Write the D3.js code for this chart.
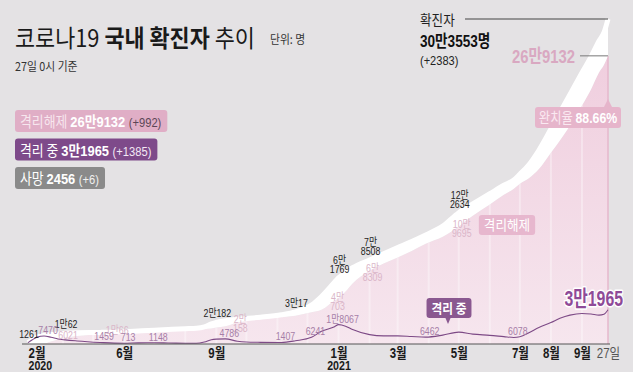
<!DOCTYPE html>
<html>
<head>
<meta charset="utf-8">
<script src="https://cdn.jsdelivr.net/npm/d3@7/dist/d3.min.js"></script>
<style>
  body { margin: 0; background: #e4e2e4; }
  svg { display: block; font-family: "Liberation Sans", "Noto Sans CJK KR", sans-serif; }
</style>
</head>
<body>
<div id="chart"></div>
<script>
// daily snapshots (people)
const dates = ['2020-02-26','2020-03-01','2020-03-06','2020-03-13','2020-03-20','2020-03-27','2020-04-03','2020-04-15',
  '2020-05-08','2020-05-22','2020-06-01','2020-06-15','2020-07-01','2020-07-15','2020-08-01','2020-08-12','2020-08-20',
  '2020-08-27','2020-09-01','2020-09-10','2020-09-22','2020-10-01','2020-10-15','2020-11-05','2020-11-19','2020-12-05',
  '2020-12-15','2020-12-28','2021-01-01','2021-01-08','2021-01-15','2021-02-01','2021-02-15','2021-03-01','2021-03-15',
  '2021-03-29','2021-04-15','2021-05-01','2021-05-15','2021-06-01','2021-06-15','2021-06-25','2021-07-01','2021-07-10',
  '2021-07-20','2021-08-01','2021-08-10','2021-08-20','2021-09-01','2021-09-10','2021-09-18','2021-09-23','2021-09-27'];

const confirmed = [1261, 3736, 6593, 7979, 8652, 9332, 10062, 10591,
  10840, 11142, 11541, 12121, 12850, 13551, 14336, 14770, 16058,
  18706, 20182, 21743, 23106, 23812, 24988, 27284, 30017, 36332,
  44364, 57680, 61769, 66686, 71241, 78508, 84325, 90029, 95635,
  101757, 110146, 122634, 130772, 140340, 148274, 153155, 158549, 167379,
  180992, 200771, 216206, 233004, 253445, 268137, 283038, 291000, 303553];

const released = [21, 36, 142, 437, 2233, 4528, 6021, 7493,
  9125, 10066, 10556, 10788, 11420, 12300, 13288, 13815, 13902,
  14377, 15324, 16605, 20158, 21585, 23005, 25400, 26500, 29551,
  31964, 40703, 42785, 48966, 56546, 68309, 75181, 80824, 86907,
  93564, 100064, 109695, 119671, 130281, 139389, 145066, 149732, 154843,
  163436, 178673, 190061, 203806, 222653, 237794, 253663, 260796, 269132];

const isolated = [1228, 3680, 6408, 7470, 6325, 4665, 3867, 2873,
  1459, 808, 713, 1056, 1148, 962, 747, 650, 1850,
  4016, 4534, 4786, 2560, 1814, 1544, 1407, 3017, 6241,
  11800, 16158, 18067, 16677, 13500, 8779, 7600, 7600, 7050,
  6462, 8300, 11106, 9200, 8100, 6900, 6078, 6800, 10500,
  15500, 20000, 24000, 27000, 28500, 28000, 27000, 27800, 31965];

// axis ticks
const tickDates = ['2020-02-26','2020-06-01','2020-09-01','2021-01-01','2021-03-01','2021-05-01','2021-07-01','2021-08-01','2021-09-01','2021-09-27'];
const tickLabels = ['2월','6월','9월','1월','3월','5월','7월','8월','9월','27일'];
const yearLabels = ['2020','','','2021','','','','','',''];

// value callouts: [date, lines]
const confirmedNotes = [['2020-02-26',['1261']], ['2020-04-03',['1만62']], ['2020-09-01',['2만182']],
  ['2020-11-19',['3만17']], ['2021-01-01',['6만','1769']], ['2021-02-01',['7만','8508']], ['2021-05-01',['12만','2634']]];
const releasedNotes = [['2020-04-03',['6021']], ['2020-05-22',['1만66']], ['2020-09-22',['2만','158']],
  ['2020-12-28',['4만','703']], ['2021-02-01',['6만','8309']], ['2021-05-01',['10만','9695']]];
const isolatedNotes = [['2020-03-13','7470'], ['2020-05-08','1459'], ['2020-06-01','713'], ['2020-07-01','1148'],
  ['2020-09-10','4786'], ['2020-11-05','1407'], ['2020-12-05','6241'], ['2021-01-01','1만8067'],
  ['2021-03-29','6462'], ['2021-06-25','6078']];

// legend
const legendNames = ['격리해제', '격리 중', '사망'];
const legendValues = ['26만9132', '3만1965', '2456'];
const legendDeltas = ['(+992)', '(+1385)', '(+6)'];

const totalLabel = '30만3553명';
const totalDelta = '(+2383)';
const releasedTotalLabel = '26만9132';
const recoveryRate = '88.66%';

const width = 633, height = 372;
const SX = 0.8; // horizontal squeeze, stands in for a condensed face
const parse = d3.timeParse('%Y-%m-%d');
const fmt = d3.timeFormat('%Y-%m-%d');

const rows = dates.map((d, i) => ({
    date: parse(d), confirmed: confirmed[i], released: released[i], isolated: isolated[i]
}));
const byDate = new Map(dates.map((d, i) => [d, rows[i]]));
const last = rows[rows.length - 1];

const svg = d3.select('#chart').append('svg')
    .attr('width', width)
    .attr('height', height);

svg.append('rect').attr('width', width).attr('height', height).attr('fill', '#e4e2e4');

// condensed text at (x, y)
function ctext(parent, px, py, sx) {
    return parent.append('text')
        .attr('transform', `translate(${px},${py}) scale(${sx || SX},1)`);
}

const x = d3.scaleTime()
    .domain([rows[0].date, last.date])
    .range([28, 608]);

const y = d3.scaleLinear()
    .domain([0, last.confirmed])
    .range([344, 19]);

const defs = svg.append('defs');
const grad = defs.append('linearGradient')
    .attr('id', 'pinkGrad')
    .attr('gradientUnits', 'userSpaceOnUse')
    .attr('x1', 0).attr('x2', 0).attr('y1', y.range()[1]).attr('y2', y.range()[0]);
grad.append('stop').attr('offset', 0).attr('stop-color', '#efcbdc');
grad.append('stop').attr('offset', 1).attr('stop-color', '#f6e6ee');

const curve = d3.curveMonotoneX;

// released area
const relArea = d3.area()
    .x(d => x(d.date))
    .y0(y(0))
    .y1(d => y(d.released))
    .curve(curve);

defs.append('clipPath').attr('id', 'relClip')
    .append('path').datum(rows).attr('d', relArea);

svg.append('path')
    .datum(rows)
    .attr('fill', 'url(#pinkGrad)')
    .attr('d', relArea);

// faint month stripes inside the pink area
const months = d3.timeMonth.range(d3.timeMonth.ceil(rows[0].date), last.date);
svg.append('g')
    .attr('clip-path', 'url(#relClip)')
    .selectAll('line')
    .data(months)
    .join('line')
    .attr('x1', d => x(d)).attr('x2', d => x(d))
    .attr('y1', y.range()[1]).attr('y2', y(0))
    .attr('stroke', '#ffffff')
    .attr('stroke-opacity', 0.35)
    .attr('stroke-width', 2);

// right edge of the area
svg.append('line')
    .attr('x1', x(last.date)).attr('x2', x(last.date))
    .attr('y1', y(last.released)).attr('y2', y(0))
    .attr('stroke', '#e6b7cc')
    .attr('stroke-width', 1.5);

// white band between released and confirmed
const band = d3.area()
    .x(d => x(d.date))
    .y0(d => y(d.released))
    .y1(d => y(d.confirmed))
    .curve(curve);

svg.append('path')
    .datum(rows)
    .attr('fill', '#ffffff')
    .attr('d', band);

svg.append('path')
    .datum(rows)
    .attr('fill', 'none')
    .attr('stroke', '#ffffff')
    .attr('stroke-width', 5)
    .attr('stroke-linejoin', 'round')
    .attr('d', d3.line().x(d => x(d.date)).y(d => y(d.confirmed)).curve(curve));

// isolated line
svg.append('path')
    .datum(rows)
    .attr('fill', 'none')
    .attr('stroke', '#7d4a86')
    .attr('stroke-width', 1.1)
    .attr('d', d3.line().x(d => x(d.date)).y(d => y(d.isolated)).curve(curve));

// x axis
const lastTick = tickLabels.length - 1;
const xAxis = svg.append('g')
    .attr('transform', `translate(0,${y(0)})`)
    .call(d3.axisBottom(x)
        .tickValues(tickDates.map(parse))
        .tickFormat((d, i) => tickLabels[i])
        .tickSize(0)
        .tickSizeOuter(0)
        .tickPadding(4));
xAxis.select('.domain').attr('stroke', '#555').attr('stroke-width', 1.2).attr('d', 'M22,0H610');
xAxis.selectAll('.tick text')
    .attr('font-family', '"Liberation Sans", "Noto Sans CJK KR", sans-serif')
    .attr('font-size', 14)
    .attr('font-weight', (d, i) => i === lastTick ? 'normal' : 'bold')
    .attr('fill', (d, i) => i === lastTick ? '#555' : '#1a1a1a')
    .attr('text-anchor', (d, i) => i === 0 ? 'start' : 'middle')
    .attr('transform', 'scale(0.82,1)');
xAxis.selectAll('.tick')
    .filter(d => yearLabels[tickDates.indexOf(fmt(d))])
    .append('text')
    .attr('y', 17)
    .attr('dy', '0.71em')
    .attr('text-anchor', d => fmt(d) === tickDates[0] ? 'start' : 'middle')
    .attr('transform', 'scale(0.82,1)')
    .attr('font-size', 13)
    .attr('font-weight', 'bold')
    .attr('fill', '#1a1a1a')
    .text(d => yearLabels[tickDates.indexOf(fmt(d))]);

// callouts
function multiline(t, lines, lh) {
    lines.forEach((s, i) => t.append('tspan').attr('x', 0).attr('dy', i === 0 ? 0 : lh).text(s));
}

const cn = svg.append('g').attr('font-size', 11).attr('fill', '#222');
confirmedNotes.forEach(([d, lines]) => {
    const r = byDate.get(d);
    const t = ctext(cn, x(r.date) + 1, y(r.confirmed) - 5 - (lines.length - 1) * 9)
        .attr('text-anchor', 'middle');
    multiline(t, lines, 9);
});

const rn = svg.append('g').attr('font-size', 11).attr('fill', '#dab5c8');
releasedNotes.forEach(([d, lines]) => {
    const r = byDate.get(d);
    const t = ctext(rn, x(r.date) + 3, y(r.released) + 1)
        .attr('text-anchor', 'middle');
    multiline(t, lines, 9);
});

const inn = svg.append('g').attr('font-size', 11).attr('fill', '#a67ea7');
isolatedNotes.forEach(([d, txt]) => {
    const r = byDate.get(d);
    ctext(inn, x(r.date) + 4, y(r.isolated) - 2)
        .attr('text-anchor', 'middle')
        .text(txt);
});

// callout boxes on the chart
function tag(cx, cy, txt, fill, size, weight) {
    const g = svg.append('g');
    const t = ctext(g, cx, cy + 5, 0.9)
        .attr('text-anchor', 'middle')
        .attr('font-family', '"Noto Sans CJK KR", sans-serif')
        .attr('font-size', size)
        .attr('font-weight', weight)
        .attr('fill', '#fff')
        .text(txt);
    const w = t.node().getBBox().width * 0.9;
    g.insert('rect', 'text')
        .attr('x', cx - w / 2 - 5).attr('y', cy - 10)
        .attr('width', w + 10).attr('height', 20)
        .attr('rx', 3)
        .attr('fill', fill);
    return g;
}

tag(507, 225, '격리해제', '#e7b7ce', 14, 'normal');
const isoTag = tag(449, 308, '격리 중', '#8a5890', 13, 'bold');
isoTag.append('path').attr('d', 'M445,317L451,317L448,324Z').attr('fill', '#8a5890');

ctext(svg, x(last.date) + 15, y(last.isolated) - 4, 0.72)
    .attr('text-anchor', 'end')
    .attr('font-size', 22)
    .attr('font-weight', 'bold')
    .attr('fill', '#8e4a98')
    .attr('stroke', '#ffffff')
    .attr('stroke-width', 3)
    .attr('paint-order', 'stroke')
    .attr('stroke-linejoin', 'round')
    .text(legendValues[1]);

// recovery rate box
const rr = svg.append('g');
rr.append('path')
    .attr('d', `M${x(last.date) - 4},107L${x(last.date)},99L${x(last.date) + 4},107Z`)
    .attr('fill', '#e6b5cb');
rr.append('rect').attr('x', 535).attr('y', 107).attr('width', 86).attr('height', 21).attr('rx', 3).attr('fill', '#e6b5cb');
const rrText = ctext(rr, 578, 123, 0.82).attr('text-anchor', 'middle').attr('font-size', 15);
rrText.append('tspan').attr('font-family', '"Noto Sans CJK KR", sans-serif').attr('fill', '#fae9f1').text('완치율 ');
rrText.append('tspan').attr('font-weight', 'bold').attr('fill', '#ffffff').text(recoveryRate);

// totals top right
svg.append('line')
    .attr('x1', 465).attr('x2', x(last.date))
    .attr('y1', y(last.confirmed)).attr('y2', y(last.confirmed))
    .attr('stroke', '#444').attr('stroke-width', 1);
ctext(svg, 420, y(last.confirmed) + 6, 0.9)
    .attr('font-family', '"Noto Sans CJK KR", sans-serif').attr('font-size', 14).attr('fill', '#222').text('확진자');
ctext(svg, 420, 47, 0.8)
    .attr('font-size', 17).attr('font-weight', 'bold').attr('fill', '#111').text(totalLabel);
ctext(svg, 420, 65, 0.85)
    .attr('font-size', 13).attr('fill', '#222').text(totalDelta);

svg.append('line')
    .attr('x1', 580).attr('x2', x(last.date))
    .attr('y1', y(last.released)).attr('y2', y(last.released))
    .attr('stroke', '#777').attr('stroke-width', 1);
ctext(svg, 575, y(last.released) + 7, 0.78)
    .attr('text-anchor', 'end')
    .attr('font-size', 19).attr('font-weight', 'bold').attr('fill', '#d9a8c1').text(releasedTotalLabel);

// title
const title = ctext(svg, 15, 47, 0.91)
    .attr('font-family', '"Noto Sans CJK KR", sans-serif').attr('font-size', 24).attr('fill', '#1a1a1a');
title.append('tspan').text('코로나19 ');
title.append('tspan').attr('font-weight', 'bold').text('국내 확진자');
title.append('tspan').text(' 추이');
ctext(svg, 270, 44, 0.9)
    .attr('font-family', '"Noto Sans CJK KR", sans-serif').attr('font-size', 12).attr('fill', '#333').text('단위: 명');
ctext(svg, 15, 71, 0.9)
    .attr('font-family', '"Noto Sans CJK KR", sans-serif').attr('font-size', 12).attr('fill', '#333').text('27일 0시 기준');

// legend boxes
const legendFill = ['#e0aec6', '#7e4a8a', '#8a8a8a'];
const legendNameColor = ['#f7e6ee', '#ffffff', '#ffffff'];
const legendDeltaColor = ['#5c4656', '#f3e8f5', '#f0f0f0'];
legendNames.forEach((name, i) => {
    const top = 110 + i * 28.5;
    const g = svg.append('g');
    const t = ctext(g, 20, top + 17, 0.86).attr('font-size', 15);
    t.append('tspan').attr('font-family', '"Noto Sans CJK KR", sans-serif').attr('fill', legendNameColor[i]).text(name + ' ');
    t.append('tspan').attr('font-weight', 'bold').attr('fill', '#ffffff').text(legendValues[i] + ' ');
    t.append('tspan').attr('font-size', 13).attr('fill', legendDeltaColor[i]).text(legendDeltas[i]);
    const w = t.node().getBBox().width * 0.86;
    g.insert('rect', 'text')
        .attr('x', 15).attr('y', top)
        .attr('width', w + 11).attr('height', 22)
        .attr('rx', 3)
        .attr('fill', legendFill[i]);
});
</script>
</body>
</html>
